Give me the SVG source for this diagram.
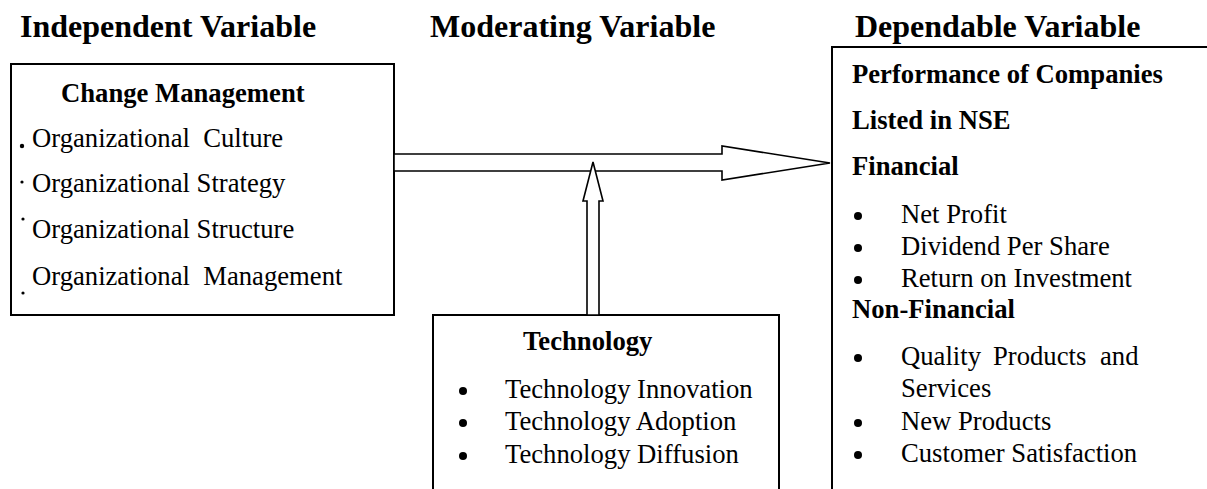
<svg xmlns="http://www.w3.org/2000/svg" width="1207" height="489" viewBox="0 0 1207 489">
<style>
text{font-family:"Liberation Serif","Times New Roman",serif;fill:#000}
.h{font-size:32px;font-weight:bold}
.b{font-size:26.67px;font-weight:bold}
.t{font-size:26.67px}
.box{fill:#fff;stroke:#000;stroke-width:2}
.arr{fill:#fff;stroke:#000;stroke-width:1.6;stroke-linejoin:miter}
.dot{fill:#000}
</style>
<rect width="1207" height="489" fill="#fff"/>
<g id="headings">
<text class="h" x="20" y="37">Independent Variable</text>
<text class="h" x="430" y="37">Moderating Variable</text>
<text class="h" x="855" y="37">Dependable Variable</text>
</g>
<g id="change-management">
<rect class="box" x="11" y="64" width="383" height="251"/>
<text class="b" x="61" y="102">Change Management</text>
<text class="t" x="32" y="147" xml:space="preserve">Organizational  Culture</text>
<text class="t" x="32" y="192">Organizational Strategy</text>
<text class="t" x="32" y="238">Organizational Structure</text>
<text class="t" x="32" y="285" xml:space="preserve">Organizational  Management</text>
<circle class="dot" cx="22" cy="146" r="2.2"/>
<circle class="dot" cx="22" cy="182" r="1.6"/>
<circle class="dot" cx="23" cy="219" r="1.6"/>
<circle class="dot" cx="23" cy="293" r="1.6"/>
</g>
<g id="technology">
<rect class="box" x="433" y="315" width="346" height="200"/>
<text class="b" x="523" y="350">Technology</text>
<circle class="dot" cx="463" cy="391" r="4"/><text class="t" x="505" y="398">Technology Innovation</text>
<circle class="dot" cx="463" cy="423" r="4"/><text class="t" x="505" y="430">Technology Adoption</text>
<circle class="dot" cx="463" cy="456" r="4"/><text class="t" x="505" y="463">Technology Diffusion</text>
</g>
<g id="performance">
<rect class="box" x="832" y="47" width="400" height="470"/>
<text class="b" x="852" y="83">Performance of Companies</text>
<text class="b" x="852" y="129">Listed in NSE</text>
<text class="b" x="852" y="175">Financial</text>
<circle class="dot" cx="858" cy="216" r="4"/><text class="t" x="901" y="223">Net Profit</text>
<circle class="dot" cx="858" cy="248" r="4"/><text class="t" x="901" y="255">Dividend Per Share</text>
<circle class="dot" cx="858" cy="280" r="4"/><text class="t" x="901" y="287">Return on Investment</text>
<text class="b" x="852" y="318">Non-Financial</text>
<circle class="dot" cx="858" cy="358" r="4"/><text class="t" y="365"><tspan x="901">Quality</tspan><tspan x="993">Products</tspan><tspan x="1100">and</tspan></text>
<text class="t" x="901" y="397">Services</text>
<circle class="dot" cx="858" cy="423" r="4"/><text class="t" x="901" y="430">New Products</text>
<circle class="dot" cx="858" cy="455" r="4"/><text class="t" x="901" y="462">Customer Satisfaction</text>
</g>
<g id="connectors">
<polygon class="arr" points="394,154 722,154 722,146 830,163 722,180 722,171 394,171"/>
<polygon class="arr" points="587,315 587,201 583,201 593,162 603,201 599,201 599,315"/>
</g>
</svg>
